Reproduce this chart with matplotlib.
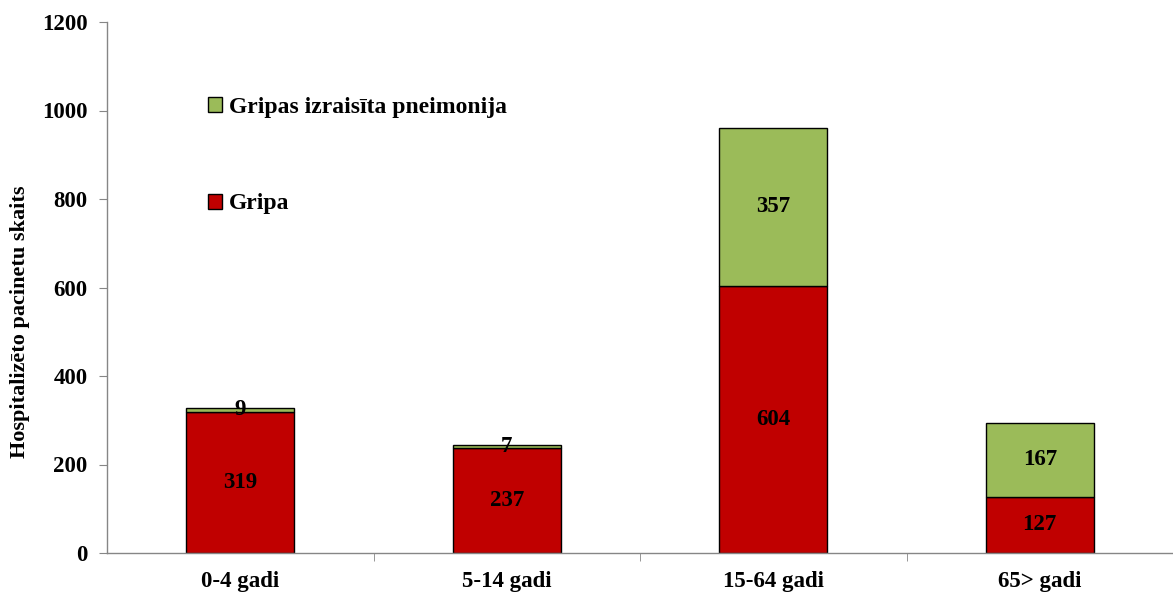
import numpy as np
import matplotlib
matplotlib.use('Agg')
import matplotlib.pyplot as plt
from matplotlib.patches import Patch

# data
categories = ['0-4 gadi', '5-14 gadi', '15-64 gadi', '65> gadi']
gripa = [319, 237, 604, 127]
pneimonija = [9, 7, 357, 167]
yticks = [0, 200, 400, 600, 800, 1000, 1200]

RED = '#C00000'
GREEN = '#9BBB59'
AXIS = '#868686'

plt.rcParams['font.family'] = ['Liberation Serif', 'DejaVu Serif']
plt.rcParams['font.weight'] = 'bold'

fig = plt.figure(figsize=(11.73, 5.92), dpi=100)
ax = fig.add_axes([107 / 1173, 1 - 553 / 592, 1 - 107 / 1173, (553 - 22) / 592])

x = np.arange(len(categories))
w = 0.405
ax.bar(x, gripa, w, color=RED, edgecolor='black', linewidth=1.0, label='Gripa')
ax.bar(x, pneimonija, w, bottom=gripa, color=GREEN, edgecolor='black', linewidth=1.0,
       label='Gripas izraisīta pneimonija')

for xi, g, p in zip(x, gripa, pneimonija):
    ax.text(xi, g / 2, str(g), ha='center', va='center', fontsize=16.5, fontweight='bold')
    ax.text(xi, g + p / 2, str(p), ha='center', va='center', fontsize=16.5, fontweight='bold')

ax.set_xlim(-0.5, len(categories) - 0.5)
ax.set_ylim(0, 1200)
ax.set_yticks(yticks)
ax.set_yticklabels([str(t) for t in yticks], fontsize=16.5, fontweight='bold')
ax.set_xticks(x)
ax.set_xticklabels(categories, fontsize=16.5, fontweight='bold')
ax.set_xticks(x[:-1] + 0.5, minor=True)
ax.tick_params(axis='x', which='major', length=0, pad=13)
ax.tick_params(axis='x', which='minor', length=6, color=AXIS, direction='out')
ax.tick_params(axis='y', length=6, color=AXIS, direction='out', pad=8)

for s in ('top', 'right'):
    ax.spines[s].set_visible(False)
for s in ('left', 'bottom'):
    ax.spines[s].set_color(AXIS)
    ax.spines[s].set_linewidth(1.0)

fig.text(20 / 1173, 1 - 322 / 592, 'Hospitalizēto pacinetu skaits', rotation=90,
         ha='center', va='center', fontsize=16, fontweight='bold')

handles = [Patch(facecolor=GREEN, edgecolor='black', lw=1.0, label='Gripas izraisīta pneimonija'),
           Patch(facecolor=RED, edgecolor='black', lw=1.0, label='Gripa')]
fig.legend(handles=handles, loc='upper left', bbox_to_anchor=(196 / 1173, 1 - 85 / 592),
           frameon=False, prop={'size': 17, 'weight': 'bold'}, labelspacing=3.2,
           handlelength=0.6, handleheight=0.6, handletextpad=0.3, borderpad=0)

fig.savefig('out.png', dpi=100)
